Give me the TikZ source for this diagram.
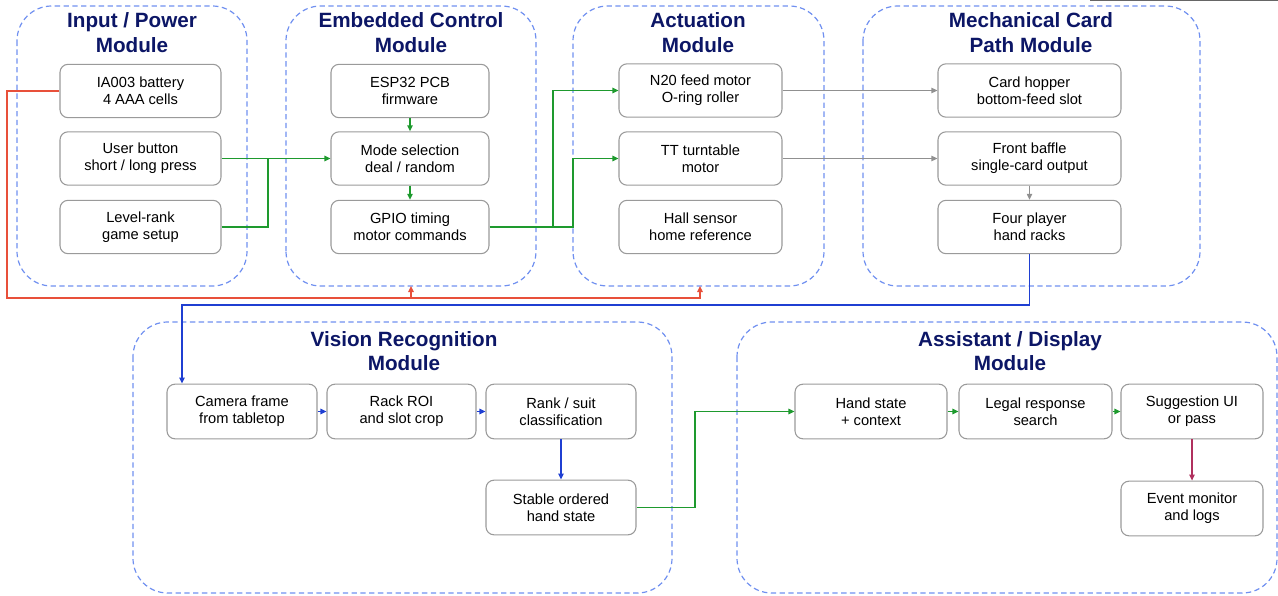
\documentclass[tikz,border=0pt]{standalone}
\usepackage{fontspec}
\setmainfont{Liberation Sans}
\usetikzlibrary{arrows.meta,calc}
\definecolor{cont}{HTML}{7090F0}
\definecolor{ttl}{HTML}{0C1666}
\definecolor{gline}{HTML}{1E9A2E}
\definecolor{bline}{HTML}{1F3FD2}
\definecolor{rline}{HTML}{E8503A}
\definecolor{mline}{HTML}{B0305E}
\definecolor{grline}{HTML}{909090}
\definecolor{bord}{HTML}{9A9A9A}
\tikzset{
  tip/.style={-{Triangle[length=4.5pt,width=4pt]}},
  container/.style={draw=cont,dashed,dash pattern=on 4pt off 2.6pt,line width=0.9pt,rounded corners=26pt},
  ttlnode/.style={text=ttl,align=center,font=\fontsize{15.5}{18.5}\selectfont\bfseries,inner sep=0pt},
  box/.style={draw=bord,line width=0.8pt,rounded corners=6pt,align=center,font=\fontsize{11}{13}\selectfont,inner sep=2pt,fill=white},
  topbox/.style={box,minimum height=40pt},
  lowbox/.style={box,minimum height=41pt,minimum width=112.5pt},
  gl/.style={draw=gline,line width=1.25pt},
  bl/.style={draw=bline,line width=1.1pt},
  rl/.style={draw=rline,line width=1.1pt},
  gr/.style={draw=grline,line width=0.9pt},
  ml/.style={draw=mline,line width=1.1pt}
}
\begin{document}
\begin{tikzpicture}[x=0.75pt,y=-0.75pt]
\useasboundingbox (0,0) rectangle (1278,596);
% containers
\draw[container] (17,6) rectangle (247,286);
\coordinate (c2sw) at (286,286); \coordinate (c2ne) at (536,6);
\draw[container] (c2sw) rectangle (c2ne);
\coordinate (c3sw) at (573,286); \coordinate (c3ne) at (824,6);
\draw[container] (c3sw) rectangle (c3ne);
\draw[container] (863,6) rectangle (1200,286);
\draw[container] (133,322) rectangle (672,593);
\draw[container] (737,322) rectangle (1277,593);
\coordinate (c2s) at (411,286);
\coordinate (c3s) at (700,286);
% titles
\node[ttlnode] (t1) at (132,32.5) {Input / Power\\Module};
\node[ttlnode] (t2) at (411,32.5) {Embedded Control\\Module};
\node[ttlnode] (t3) at (698,32.5) {Actuation\\Module};
\node[ttlnode] (t4) at (1031,32.5) {Mechanical Card\\Path Module};
\node[ttlnode] (t5) at (404,351) {Vision Recognition\\Module};
\node[ttlnode] (t6) at (1010,351) {Assistant / Display\\Module};
% top row boxes
\node[topbox,minimum width=120.75pt] (bat) at (140.5,91) {IA003 battery\\4 AAA cells};
\node[topbox,minimum width=120.75pt] (btn) at (140.5,158.5) {User button\\short / long press};
\node[topbox,minimum width=120.75pt] (lvl) at (140.5,227) {Level-rank\\game setup};
\node[topbox,minimum width=118.5pt] (esp) at (410,91) {ESP32 PCB\\firmware};
\node[topbox,minimum width=118.5pt] (mode) at (410,158.5) {Mode selection\\deal / random};
\node[topbox,minimum width=118.5pt] (gpio) at (410,227) {GPIO timing\\motor commands};
\node[topbox,minimum width=122.25pt] (n20) at (700.5,90.5) {N20 feed motor\\O-ring roller};
\node[topbox,minimum width=122.25pt] (tt) at (700.5,158.5) {TT turntable\\motor};
\node[topbox,minimum width=122.25pt] (hall) at (700.5,227) {Hall sensor\\home reference};
\node[topbox,minimum width=137.25pt] (hop) at (1029.5,90.5) {Card hopper\\bottom-feed slot};
\node[topbox,minimum width=137.25pt] (baf) at (1029.5,158.5) {Front baffle\\single-card output};
\node[topbox,minimum width=137.25pt] (four) at (1029.5,227) {Four player\\hand racks};
% lower boxes
\node[lowbox] (cam) at (242,411.5) {Camera frame\\from tabletop};
\node[lowbox,minimum width=111.75pt] (roi) at (401.5,411.5) {Rack ROI\\and slot crop};
\node[lowbox] (rank) at (561,411.5) {Rank / suit\\classification};
\node[lowbox] (stab) at (561,507.5) {Stable ordered\\hand state};
\node[lowbox,minimum width=114pt] (hand) at (871,411.5) {Hand state\\+ context};
\node[lowbox,minimum width=114.75pt] (legal) at (1035.5,411.5) {Legal response\\search};
\node[lowbox,minimum width=106.5pt] (sugg) at (1192,411.5) {Suggestion UI\\or pass};
\node[lowbox,minimum width=106.5pt] (event) at (1192,508.5) {Event monitor\\and logs};
% coordinates
\coordinate (r1) at (7,298);
\coordinate (j1) at (268,158.5);
\coordinate (g1) at (553,227);
\coordinate (g2) at (573,227);
\coordinate (b1) at (182,305);
\coordinate (g3) at (695,507.5);
\coordinate (tl1) at (1090,0.6);
\coordinate (tl2) at (1278,0.6);
% red power
\draw[rl,tip] (bat.west) -| (r1) -| (c3s);
\draw[rl,tip] (c2s |- r1) -- (c2s);
% green control
\draw[gl,tip] (btn.east) -- (mode.west);
\draw[gl] (lvl.east) -| (j1);
\draw[gl,tip] (esp) -- (mode);
\draw[gl,tip] (mode) -- (gpio);
\draw[gl,tip] (gpio.east) -- (g2) |- (tt.west);
\draw[gl,tip] (g1) |- (n20.west);
% gray mechanical
\draw[gr,tip] (n20.east) -- (hop.west);
\draw[gr,tip] (tt.east) -- (baf.west);
\draw[gr,tip] (baf) -- (four);
% blue vision
\draw[bl,tip] (four.south) |- (b1) -- (b1 |- cam.north);
\draw[bl,tip] (cam) -- (roi);
\draw[bl,tip] (roi) -- (rank);
\draw[bl,tip] (rank) -- (stab);
% green assistant
\draw[gl,tip] (stab.east) -- (g3) |- (hand.west);
\draw[gl,tip] (hand) -- (legal);
\draw[gl,tip] (legal) -- (sugg);
\draw[ml,tip] (sugg) -- (event);
% top-right edge line
\draw[draw=gray!80!black,line width=1pt] (tl1) -- (tl2);
\end{tikzpicture}
\end{document}
